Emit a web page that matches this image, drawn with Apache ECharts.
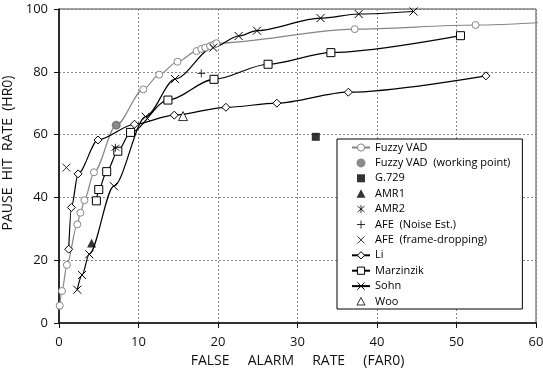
<!DOCTYPE html>
<html>
<head>
<meta charset="utf-8">
<script src="https://cdn.jsdelivr.net/npm/echarts@6/dist/echarts.min.js"></script>
<style>
  html, body { margin: 0; padding: 0; background: #fff; }
  #chart { width: 543px; height: 375px; }
</style>
</head>
<body>
<div id="chart"></div>
<script>
// curves: [far0, hr0]
var fuzzyVad = [[0.09, 5.5], [0.38, 10.2], [1.0, 18.5], [2.3, 31.4], [2.7, 35.1], [3.2, 39.1], [4.4, 48.0],
  [7.2, 63.0], [10.6, 74.4], [12.6, 79.1], [14.9, 83.2], [17.3, 86.6], [17.9, 87.3], [18.4, 87.7],
  [19.0, 88.2], [19.5, 88.7], [19.8, 89.1], [37.2, 93.6], [52.4, 94.9]]
var fuzzyTail = [61.5, 95.8] // line runs past the frame
var sohn = [[2.3, 10.6], [2.9, 15.3], [3.8, 21.9], [6.9, 43.6], [10.9, 65.7], [14.6, 77.7], [19.4, 87.7],
  [22.6, 91.4], [24.9, 93.1], [32.9, 97.1], [37.7, 98.4], [44.6, 99.2]]
var li = [[1.22, 23.5], [1.56, 36.8], [2.4, 47.5], [4.9, 58.3], [9.5, 63.3], [14.5, 66.2], [21.0, 68.7],
  [27.4, 70.0], [36.4, 73.5], [53.7, 78.7]]
var marzinzik = [[4.7, 38.9], [5.0, 42.5], [6.0, 48.2], [7.4, 54.7], [9.0, 60.7], [13.7, 71.0], [19.5, 77.6],
  [26.3, 82.4], [34.2, 86.1], [50.5, 91.5]]

// single operating points
var workingPoint = [[7.2, 63.0]]
var g729 = [[32.3, 59.3]]
var amr1 = [[4.1, 25.5]]
var amr2 = [[7.1, 55.8]]
var afeNoise = [[17.9, 79.5]]
var afeFrame = [[0.93, 49.5]]
var woo = [[15.6, 65.9]]

var xTicks = [0, 10, 20, 30, 40, 50, 60]
var yTicks = [0, 20, 40, 60, 80, 100]
var legendNames = ['Fuzzy VAD', 'Fuzzy VAD  (working point)', 'G.729', 'AMR1', 'AMR2', 'AFE  (Noise Est.)',
  'AFE  (frame-dropping)', 'Li', 'Marzinzik', 'Sohn', 'Woo']

var FONT = 'Open Sans'
var crossPath = 'path://M0,0L10,10M10,0L0,10'
var plusPath = 'path://M5,0L5,10M0,5L10,5'
var starPath = 'path://M5,0L5,10M0.8,1.5L9.2,8.5M9.2,1.5L0.8,8.5'

// legend icons for the single points: the 18x9 box is pinned by the two moveTo's,
// so the mark keeps its own size instead of being stretched
var legendIcons = {
  'G.729': 'path://M0,0M18,9M5,0.5L13,0.5L13,8.5L5,8.5Z',
  'AMR1': 'path://M0,0M18,9M9,0L13.5,8.5L4.5,8.5Z',
  'AMR2': 'path://M0,0M18,9M9,0.5L9,8.5M5.5,1.5L12.5,7.5M12.5,1.5L5.5,7.5',
  'AFE  (Noise Est.)': 'path://M0,0M18,9M9,0.5L9,8.5M5,4.5L13,4.5',
  'AFE  (frame-dropping)': 'path://M0,0M18,9M5.5,1L12.5,8M12.5,1L5.5,8',
  'Woo': 'path://M0,0M18,9M9,0.5L13,8L5,8Z'
}

var chart = echarts.init(document.getElementById('chart'))

// hollow marks: white fill + 1px border (the built-in empty* symbols force a 2px border)
function curve (name, data, color, symbol, size, hollow) {
  return {
    name: name,
    type: 'line',
    data: data,
    smooth: 0.3,
    smoothMonotone: 'x',
    clip: false,
    symbol: symbol,
    symbolSize: size,
    showAllSymbol: true,
    lineStyle: { color: color, width: 1.2 },
    itemStyle: { color: hollow ? '#fff' : color, borderColor: color, borderWidth: 1 },
    z: 3
  }
}

function point (name, data, symbol, size, color, hollow) {
  return {
    name: name,
    type: 'scatter',
    data: data,
    symbol: symbol,
    symbolSize: size,
    itemStyle: hollow
      ? { color: hollow, borderColor: color, borderWidth: 1 }
      : { color: color },
    z: 5
  }
}

var fuzzyData = fuzzyVad.concat([{ value: fuzzyTail, symbol: 'none' }])

var option = {
  animation: false,
  textStyle: { fontFamily: FONT },
  grid: {
    left: 59,
    right: 7,
    top: 9,
    bottom: 52,
    outerBoundsMode: 'none',
    containLabel: false,
    show: true,
    borderColor: '#444',
    borderWidth: 1
  },
  legend: {
    orient: 'vertical',
    left: 337,
    top: 139,
    padding: [3, 12, 2, 14],
    itemWidth: 18,
    itemHeight: 9,
    itemGap: 4.4,
    backgroundColor: '#fff',
    borderColor: '#000',
    borderWidth: 1,
    borderRadius: 0,
    itemStyle: { borderWidth: 1 },
    textStyle: { fontFamily: FONT, fontSize: 11, color: '#000' },
    data: legendNames.map(function (n) {
      return legendIcons[n] ? { name: n, icon: legendIcons[n] } : { name: n }
    })
  },
  xAxis: {
    type: 'value',
    min: xTicks[0],
    max: xTicks[xTicks.length - 1],
    interval: xTicks[1] - xTicks[0],
    name: 'FALSE     ALARM     RATE     (FAR0)',
    nameLocation: 'middle',
    nameGap: 30,
    nameTextStyle: { fontFamily: FONT, fontSize: 14, color: '#111' },
    axisLine: { lineStyle: { color: '#111', width: 1.6 } },
    axisTick: { show: true, length: 5, lineStyle: { color: '#111' } },
    axisLabel: { margin: 13, fontSize: 13, color: '#111', fontFamily: FONT },
    splitLine: { show: true, lineStyle: { color: '#888', type: [2, 2], width: 1 } }
  },
  yAxis: {
    type: 'value',
    min: yTicks[0],
    max: yTicks[yTicks.length - 1],
    interval: yTicks[1] - yTicks[0],
    name: 'PAUSE  HIT  RATE  (HR0)',
    nameLocation: 'middle',
    nameGap: 36,
    nameTextStyle: { fontFamily: FONT, fontSize: 14, color: '#111', padding: [0, 0, 0, 26] },
    axisLine: { show: true, lineStyle: { color: '#111', width: 1.6 } },
    axisTick: { show: true, length: 5, lineStyle: { color: '#111' } },
    axisLabel: { margin: 11, fontSize: 13, color: '#111', fontFamily: FONT },
    splitLine: { show: true, lineStyle: { color: '#888', type: [2, 2], width: 1 } }
  },
  series: [
    curve('Fuzzy VAD', fuzzyData, '#858585', 'circle', 7, true),
    point('Fuzzy VAD  (working point)', workingPoint, 'circle', 9, '#6e6e6e'),
    point('G.729', g729, 'rect', 8, '#000'),
    point('AMR1', amr1, 'triangle', 9, '#000'),
    point('AMR2', amr2, starPath, 8, '#000', 'rgba(0,0,0,0)'),
    point('AFE  (Noise Est.)', afeNoise, plusPath, 8, '#000', 'rgba(0,0,0,0)'),
    point('AFE  (frame-dropping)', afeFrame, crossPath, 8, '#000', 'rgba(0,0,0,0)'),
    curve('Li', li, '#000', 'diamond', 8, true),
    curve('Marzinzik', marzinzik, '#000', 'rect', 8, true),
    curve('Sohn', sohn, '#000', crossPath, 8),
    point('Woo', woo, 'triangle', 9, '#000', '#fff')
  ]
}

chart.setOption(option)
</script>
</body>
</html>
